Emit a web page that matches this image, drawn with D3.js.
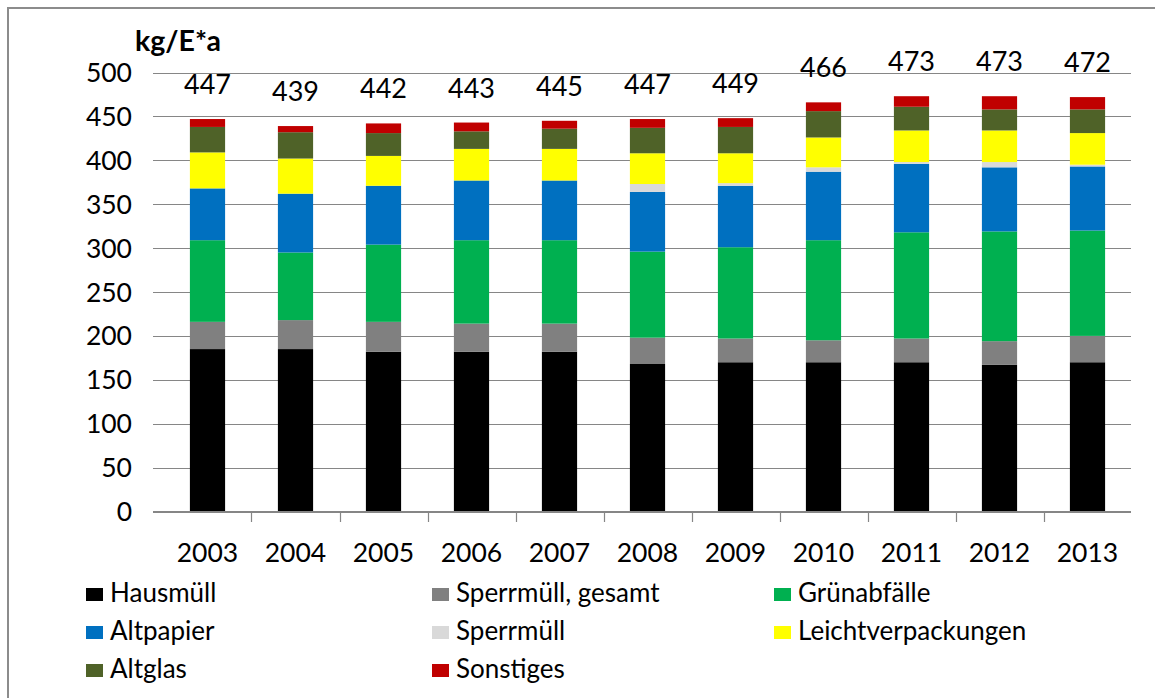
<!DOCTYPE html>
<html>
<head>
<meta charset="utf-8">
<script src="https://cdn.jsdelivr.net/npm/d3@7"></script>
<style>
  html, body { margin: 0; padding: 0; background: #fff; }
  svg { display: block; }
  text { font-family: Lato, "Open Sans", sans-serif; fill: #000; }
</style>
</head>
<body>
<svg id="chart" width="1155" height="698"></svg>
<script>
const years = ["2003","2004","2005","2006","2007","2008","2009","2010","2011","2012","2013"];
const seriesNames = ["Hausmüll","Sperrmüll, gesamt","Grünabfälle","Altpapier","Sperrmüll","Leichtverpackungen","Altglas","Sonstiges"];
const hausmuell   = [185, 185, 182, 182, 182, 168, 170, 170, 170, 167, 170];
const sperrGesamt = [31, 33, 34, 32, 32, 30, 27, 25, 27, 27, 30];
const gruen       = [93, 77, 88, 95, 95, 98, 104, 114, 121, 125, 120];
const altpapier   = [59, 67, 67, 68, 68, 68, 70, 78, 78, 73, 73];
const sperrmuell  = [0, 0, 0, 0, 0, 9, 3, 5, 2, 6, 2];
const lvp         = [41, 40, 34, 36, 36, 35, 34, 34, 36, 36, 36];
const altglas     = [29, 30, 26, 20, 23, 29, 30, 30, 27, 24, 27];
const sonstiges   = [9, 7, 11, 10, 9, 10, 10, 10, 12, 15, 14];
const totals      = [447, 439, 442, 443, 445, 447, 449, 466, 473, 473, 472];
const yTicks      = [0, 50, 100, 150, 200, 250, 300, 350, 400, 450, 500];
const colors      = ["#000000","#808080","#00B050","#0070C0","#D9D9D9","#FFFF00","#4F6228","#C00000"];

const seriesValues = [hausmuell, sperrGesamt, gruen, altpapier, sperrmuell, lvp, altglas, sonstiges];
const table = years.map((y, i) => {
  const row = { year: y };
  seriesNames.forEach((n, k) => row[n] = seriesValues[k][i]);
  return row;
});

const svg = d3.select("#chart");

// outer frame
svg.append("rect").attr("x", 8).attr("y", 8).attr("width", 1160).attr("height", 700)
  .attr("fill", "none").attr("stroke", "#8c8c8c").attr("stroke-width", 2);

const x = d3.scaleBand().domain(years).range([163.5, 1131.5]).paddingInner(0.6).paddingOuter(0.3);
const y = d3.scaleLinear().domain([0, 500]).range([511.5, 72.5]);

// gridlines
svg.append("g").selectAll("line").data(yTicks.filter(t => t > 0)).join("line")
  .attr("x1", 153).attr("x2", 1131)
  .attr("y1", d => Math.round(y(d)) + 0.5).attr("y2", d => Math.round(y(d)) + 0.5)
  .attr("stroke", "#868686").attr("stroke-width", 1.2);

// y labels
svg.append("g").selectAll("text").data(yTicks).join("text")
  .attr("x", 132).attr("y", d => y(d)).attr("dy", "0.36em")
  .attr("text-anchor", "end").style("font-size", "26.5px").text(d => d);

// axis title
svg.append("text").attr("x", 135).attr("y", 51).style("font-size", "28.5px").style("font-weight", "bold").text("kg/E*a");

// stacked bars
const stack = d3.stack().keys(seriesNames)(table);
svg.append("g").selectAll("g").data(stack).join("g")
  .attr("fill", (d, i) => colors[i])
  .selectAll("rect").data(d => d).join("rect")
  .attr("x", d => x(d.data.year))
  .attr("width", x.bandwidth())
  .attr("y", d => y(d[1]))
  .attr("height", d => y(d[0]) - y(d[1]));

// x axis line and ticks
svg.append("line").attr("x1", 153).attr("x2", 1131).attr("y1", 512).attr("y2", 512)
  .attr("stroke", "#868686").attr("stroke-width", 2);
const step = x.step();
svg.append("g").selectAll("line").data(years.slice(1)).join("line")
  .attr("x1", d => Math.round(x(d) - step * 0.3) + 0.5).attr("x2", d => Math.round(x(d) - step * 0.3) + 0.5)
  .attr("y1", 512).attr("y2", 522).attr("stroke", "#868686").attr("stroke-width", 1.2);

// year labels
svg.append("g").selectAll("text").data(years).join("text")
  .attr("x", d => x(d) + x.bandwidth() / 2).attr("y", 562)
  .attr("text-anchor", "middle").style("font-size", "26.5px").text(d => d);

// total labels
const tops = stack[stack.length - 1];
svg.append("g").selectAll("text").data(totals).join("text")
  .attr("x", (d, i) => x(years[i]) + x.bandwidth() / 2)
  .attr("y", (d, i) => y(tops[i][1]) - 25)
  .attr("text-anchor", "middle").style("font-size", "27px").text(d => d);

// legend
const colX = [86, 432, 774];
const rowY = [595, 633, 671];
const leg = svg.append("g").selectAll("g").data(seriesNames).join("g")
  .attr("transform", (d, i) => `translate(${colX[i % 3]},${rowY[Math.floor(i / 3)]})`);
leg.append("rect").attr("x", 0).attr("y", -7).attr("width", 17).attr("height", 13)
  .attr("fill", (d, i) => colors[i]);
leg.append("text").attr("x", 24).attr("y", 7).style("font-size", "26px").text(d => d);
</script>
</body>
</html>
